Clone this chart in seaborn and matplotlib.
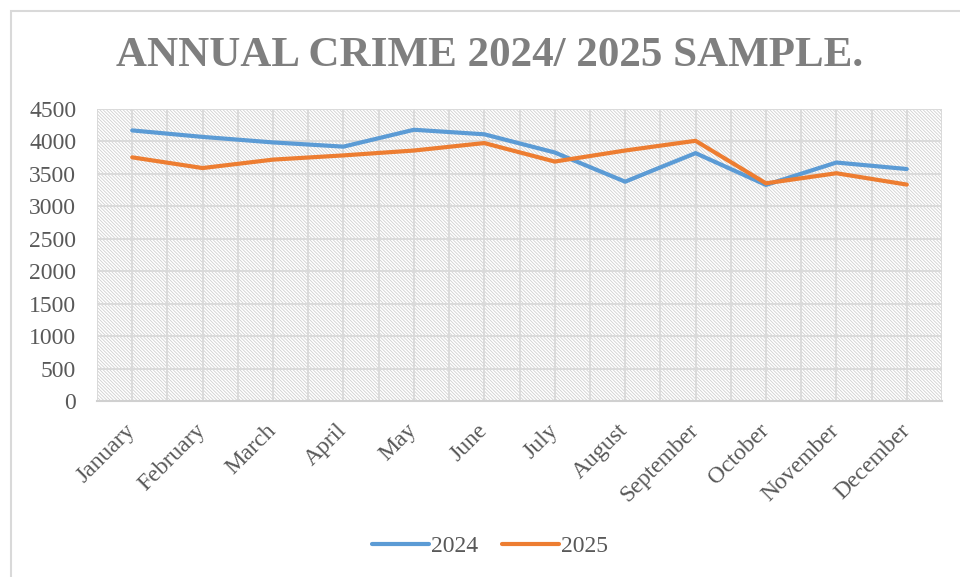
import matplotlib
matplotlib.use("Agg")
import matplotlib.pyplot as plt
import seaborn as sns
import pandas as pd
import numpy as np
from matplotlib.patches import Rectangle

months = ["January", "February", "March", "April", "May", "June", "July",
          "August", "September", "October", "November", "December"]
crime_2024 = [4170, 4070, 3985, 3920, 4180, 4110, 3830, 3380, 3820, 3330, 3675, 3575]
crime_2025 = [3755, 3590, 3720, 3785, 3860, 3975, 3690, 3860, 4010, 3355, 3510, 3335]
series_names = ["2024", "2025"]
y_ticks = [0, 500, 1000, 1500, 2000, 2500, 3000, 3500, 4000, 4500]
title = "ANNUAL CRIME 2024/ 2025 SAMPLE."

df = pd.DataFrame({
    "Month": months * 2,
    "idx": list(range(len(months))) * 2,
    "Crimes": crime_2024 + crime_2025,
    "Year": [series_names[0]] * len(months) + [series_names[1]] * len(months),
})

sns.set_theme(style="white")
plt.rcParams["font.family"] = ["Liberation Serif", "DejaVu Serif"]
plt.rcParams["hatch.linewidth"] = 0.6

fig = plt.figure(figsize=(9.6, 5.77), dpi=100)
W, H = 960, 577
ax = fig.add_axes([97 / W, 1 - 401 / H, (942 - 97) / W, (401 - 109) / H])

# chart border
fig.patches.append(Rectangle((11 / W, -0.1), 1.2, 1.1 - 11 / H, transform=fig.transFigure,
                             facecolor="none", edgecolor="#d9d9d9", linewidth=1.5, zorder=0))

# hatched plot background
ax.set_facecolor("white")
ax.add_patch(Rectangle((0, 0), 1, 1, transform=ax.transAxes, facecolor="white",
                       edgecolor="#d0d0d0", hatch=chr(92) * 10, linewidth=0, zorder=0))

palette = {"2024": "#5B9BD5", "2025": "#ED7D31"}
sns.lineplot(data=df, x="idx", y="Crimes", hue="Year", palette=palette, ax=ax,
             linewidth=3.0, legend=False, zorder=3, solid_capstyle="round")

ax.set_xlim(-0.5, len(months) - 0.5)
ax.set_ylim(0, 4500)
ax.set_yticks(y_ticks)
ax.set_yticklabels([str(v) for v in y_ticks])
ax.set_xticks(range(len(months)))
ax.set_xticklabels(months, rotation=45, ha="right", va="center", rotation_mode="anchor")

for v in y_ticks[1:]:
    ax.axhline(v, color="#d9d9d9", linewidth=1.3, zorder=1)
for xv in np.arange(-0.5, len(months), 0.5):
    ax.axvline(xv, color="#d9d9d9", linewidth=1.3, zorder=1)

for s in ["top", "right", "left"]:
    ax.spines[s].set_visible(False)
ax.spines["bottom"].set_color("#d0d0d0")
ax.spines["bottom"].set_linewidth(1.5)
ax.spines["bottom"].set_zorder(2)

ax.tick_params(axis="both", length=0, labelsize=17, labelcolor="#595959")
ax.tick_params(axis="y", pad=15)
ax.tick_params(axis="x", pad=19)
ax.set_xlabel("")
ax.set_ylabel("")

fig.text(490 / W, 1 - 56 / H, title, ha="center", va="center", fontsize=31,
         fontweight="bold", color="#7f7f7f")

handles = [plt.Line2D([], [], color=palette[n], linewidth=3.0, solid_capstyle="round")
           for n in series_names]
fig.legend(handles, series_names, loc="center", bbox_to_anchor=(490 / W, 1 - 546 / H),
           ncol=2, frameon=False, fontsize=17, handlelength=2.4, handletextpad=0.1,
           columnspacing=1.0, labelcolor="#595959")

fig.savefig("out.png", dpi=100)
